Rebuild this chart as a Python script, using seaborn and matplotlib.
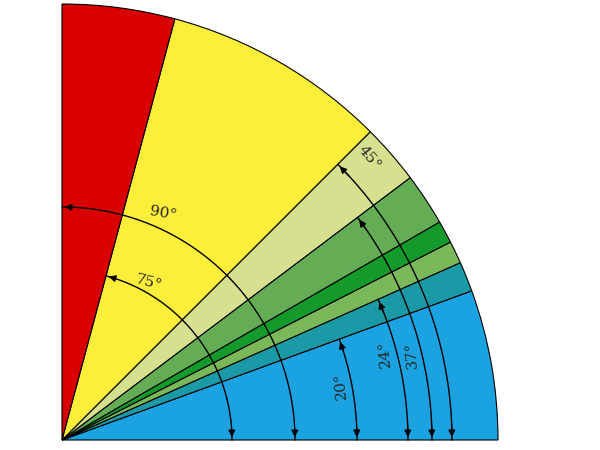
import numpy as np
import matplotlib
matplotlib.use("Agg")
import matplotlib.pyplot as plt
import seaborn as sns
from matplotlib.patches import Wedge

sns.set_style("white")
plt.rcParams['font.family'] = ['DejaVu Serif']

# wedge boundaries (degrees) and colours
bounds = [0, 20, 24, 27, 30, 37, 45, 75, 90]
colors = ["#1aa3e0", "#1a9aa6", "#7ab85a", "#139a2a", "#64ad55", "#d6e08e", "#fdee3a", "#d90000"]
# angle dimension arcs
arc_angles = [75, 90, 20, 24, 37, 45]
arc_radii = [170, 233, 295, 346, 370, 390]
arc_labels = ["75°", "90°", "20°", "24°", "37°", "45°"]
label_pos = [(61, 180), (66, 248), (11, 284), (15, 334), (13.6, 360), (42.5, 417)]
label_rot = [-15, -10, 95, 95, 95, -50]

R = 436
ox, oy = 62, 10

fig = plt.figure(figsize=(6, 4.5), dpi=100)
ax = fig.add_axes([0, 0, 1, 1])
ax.set_xlim(0, 600)
ax.set_ylim(0, 450)
ax.set_aspect("equal")
ax.axis("off")

for a0, a1, c in zip(bounds[:-1], bounds[1:], colors):
    ax.add_patch(Wedge((ox, oy), R, a0, a1, facecolor=c, edgecolor="black", lw=0.8))

for ang, r, lab, (la, lr), rot in zip(arc_angles, arc_radii, arc_labels, label_pos, label_rot):
    t = np.radians(np.linspace(0, ang, 200))
    ax.plot(ox + r * np.cos(t), oy + r * np.sin(t), color="black", lw=1)
    for tt, dt in [(0, 0.05), (np.radians(ang), -0.05)]:
        end = (ox + r * np.cos(tt), oy + r * np.sin(tt))
        start = (ox + r * np.cos(tt + dt), oy + r * np.sin(tt + dt))
        ax.annotate("", xy=end, xytext=start,
                    arrowprops=dict(arrowstyle="-|>", color="black", lw=1, mutation_scale=10))
    lt = np.radians(la)
    ax.text(ox + lr * np.cos(lt), oy + lr * np.sin(lt), lab, rotation=rot,
            ha="center", va="center", fontsize=11)

fig.savefig("out.png", dpi=100, facecolor="white")
